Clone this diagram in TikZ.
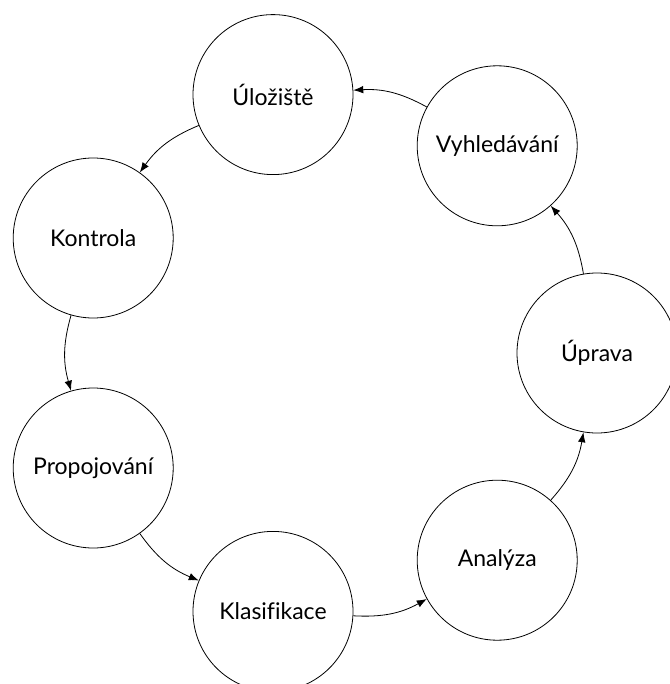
\documentclass[tikz,border=0pt]{standalone}
\usepackage{fontspec}
\newfontfamily\labelfont[Ligatures={NoCommon}]{Lato}
\usetikzlibrary{arrows.meta}
\begin{document}
\begin{tikzpicture}[x=0.5pt,y=0.5pt,
  stage/.style={draw,circle,minimum size=80pt,inner sep=0pt,font=\labelfont\fontsize{11.5}{14}\selectfont},
  flow/.style={-{Latex[length=5pt,width=3.8pt]},bend right=16}]
\useasboundingbox (0,0) rectangle (669,-684);
\node[stage] (ul) at (273.0,-94.6) {Úložiště};
\node[stage] (vy) at (497.2,-145.8) {Vyhledávání};
\node[stage] (up) at (597.0,-353.0) {Úprava};
\node[stage] (an) at (497.2,-560.2) {Analýza};
\node[stage] (kl) at (273.0,-611.4) {Klasifikace};
\node[stage] (pr) at (93.2,-468.0) {Propojování};
\node[stage] (ko) at (93.2,-238.0) {Kontrola};
\draw[flow] (ul) to (ko);
\draw[flow] (ko) to (pr);
\draw[flow] (pr) to (kl);
\draw[flow] (kl) to (an);
\draw[flow] (an) to (up);
\draw[flow] (up) to (vy);
\draw[flow] (vy) to (ul);
\end{tikzpicture}
\end{document}
